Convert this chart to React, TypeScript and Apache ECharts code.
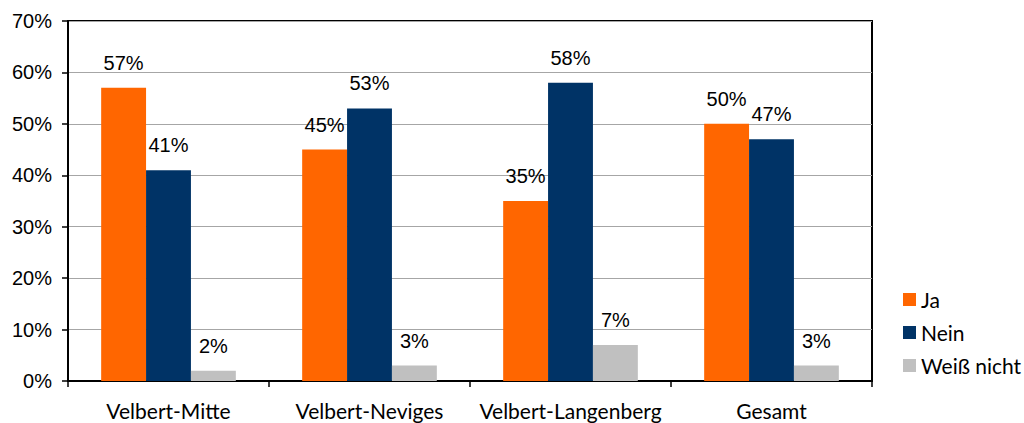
import React, { useEffect, useRef } from "react";
import * as echarts from "echarts";

const categories = ["Velbert-Mitte", "Velbert-Neviges", "Velbert-Langenberg", "Gesamt"];
const ja = [57, 45, 35, 50];
const nein = [41, 53, 58, 47];
const weissNicht = [2, 3, 7, 3];
const seriesNames = ["Ja", "Nein", "Weiß nicht"];
const colors = ["#ff6600", "#003366", "#c0c0c0"];

export default function App() {
  const ref = useRef<HTMLDivElement>(null);
  useEffect(() => {
    document.body.style.margin = "0";
    const chart = echarts.init(ref.current!, null, { renderer: "svg" });
    const labelStyle = {
      show: true,
      position: "top" as const,
      distance: 15,
      formatter: "{c}%",
      color: "#000",
      fontFamily: "Liberation Sans, Arial, sans-serif",
      fontSize: 20,
    };
    const datas = [ja, nein, weissNicht];
    chart.setOption({
      animation: false,
      backgroundColor: "#fff",
      grid: {
        left: 68,
        top: 21,
        width: 804,
        height: 360,
        show: true,
        borderColor: "#000",
        borderWidth: 2,
        backgroundColor: "transparent",
      },
      legend: {
        orient: "vertical",
        left: 903,
        top: 289,
        padding: 0,
        itemWidth: 13,
        itemHeight: 13,
        itemGap: 12,
        icon: "rect",
        textStyle: { fontFamily: "Lato, sans-serif", fontSize: 21, lineHeight: 20, color: "#000" },
        data: seriesNames,
      },
      xAxis: {
        type: "category",
        data: categories,
        axisLine: { show: true, lineStyle: { color: "#000", width: 2 } },
        axisTick: { show: true, interval: 0, alignWithLabel: false, length: 6, lineStyle: { color: "#000", width: 1.5 } },
        axisLabel: { interval: 0, hideOverlap: false, margin: 19, fontFamily: "Lato, sans-serif", fontSize: 21, color: "#000" },
      },
      yAxis: {
        type: "value",
        min: 0,
        max: 70,
        interval: 10,
        axisLine: { show: true, lineStyle: { color: "#000", width: 2 } },
        axisTick: { show: true, length: 6, lineStyle: { color: "#000", width: 1.5 } },
        axisLabel: {
          formatter: "{value}%",
          margin: 16,
          fontFamily: "Liberation Sans, Arial, sans-serif",
          fontSize: 20,
          color: "#000",
        },
        splitLine: { show: true, lineStyle: { color: "#a6a6a6", width: 1 } },
      },
      series: seriesNames.map((name, i) => ({
        name,
        type: "bar",
        data: datas[i],
        barGap: "0%",
        barCategoryGap: "33%",
        itemStyle: { color: colors[i] },
        label: labelStyle,
      })),
    });
    return () => chart.dispose();
  }, []);
  return <div ref={ref} style={{ width: 1024, height: 423 }} />;
}
